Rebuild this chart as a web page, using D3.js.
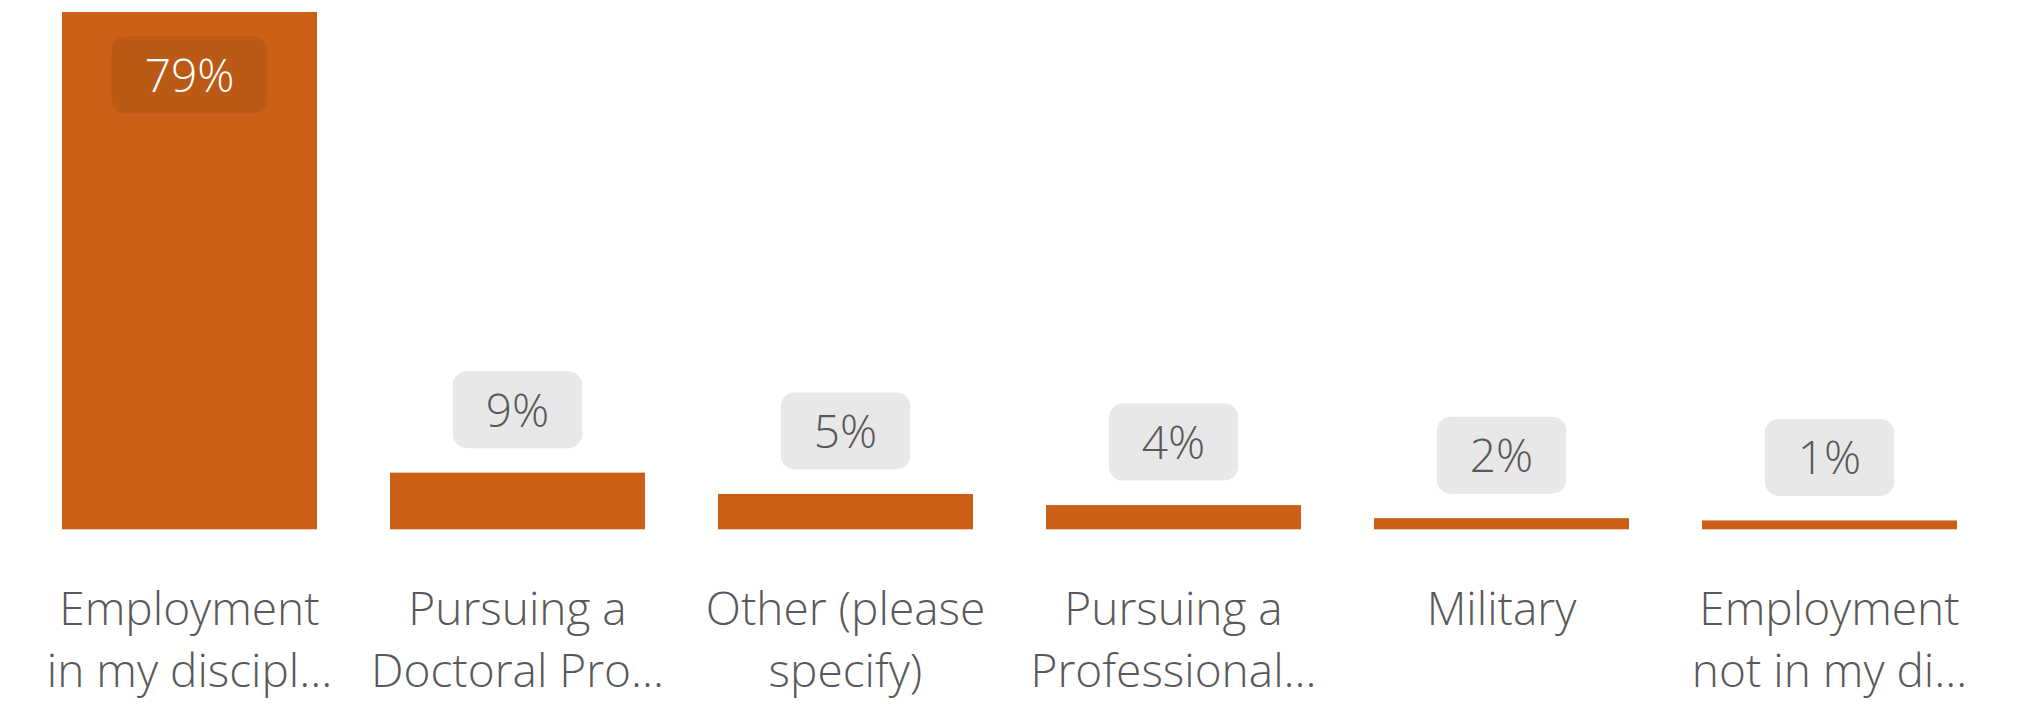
<!DOCTYPE html>
<html>
<head>
<meta charset="utf-8">
<script src="https://cdn.jsdelivr.net/npm/d3@7"></script>
<style>
  html, body { margin: 0; padding: 0; background: #ffffff; }
  svg { display: block; }
</style>
</head>
<body>
<svg id="chart" width="2028" height="704"></svg>
<script>
const categories = [
  "Employment in my discipline",
  "Pursuing a Doctoral Program",
  "Other (please specify)",
  "Pursuing a Professional Program",
  "Military",
  "Employment not in my discipline"
];
const categoryLines = [
  ["Employment", "in my discipl\u2026"],
  ["Pursuing a", "Doctoral Pro\u2026"],
  ["Other (please", "specify)"],
  ["Pursuing a", "Professional\u2026"],
  ["Military"],
  ["Employment", "not in my di\u2026"]
];
const values = [79, 8.65, 5.4, 3.7, 1.7, 1.35];
const valueLabels = ["79%", "9%", "5%", "4%", "2%", "1%"];

const W = 2028, H = 704;
const baseY = 529.3, topY = 12;
const svg = d3.select("#chart");

const x = d3.scaleBand()
  .domain(categories)
  .range([25.5, 1993.5])
  .paddingInner(0.2226)
  .paddingOuter(0.1113);

const y = d3.scaleLinear()
  .domain([0, d3.max(values)])
  .range([baseY, topY]);

const barColor = "#CA5F15";
const textColor = "#595959";
const font = "'Open Sans', 'Noto Sans', sans-serif";

const data = categories.map((c, i) => ({ c, v: values[i], lab: valueLabels[i], lines: categoryLines[i], i }));

svg.append("g").selectAll("rect")
  .data(data)
  .join("rect")
  .attr("x", d => x(d.c))
  .attr("width", x.bandwidth())
  .attr("y", d => y(d.v))
  .attr("height", d => baseY - y(d.v))
  .attr("fill", barColor);

// value labels
const boxH = 77, gap = 24.5;
const lab = svg.append("g").selectAll("g")
  .data(data)
  .join("g")
  .attr("transform", d => {
    const cx = x(d.c) + x.bandwidth() / 2;
    const inside = d.i === 0;
    const cy = inside ? y(d.v) + gap + boxH / 2 : y(d.v) - gap - boxH / 2;
    return `translate(${cx},${cy})`;
  });

lab.append("text")
  .attr("class", "vl")
  .attr("text-anchor", "middle")
  .attr("dy", "0.37em")
  .attr("font-family", font)
  .attr("font-weight", 300)
  .attr("font-size", 46)
  .attr("fill", d => d.i === 0 ? "#ffffff" : textColor)
  .text(d => d.lab);

lab.each(function(d) {
  const g = d3.select(this);
  const t = g.select("text").node();
  const bw = t.getComputedTextLength() + 66;
  g.insert("rect", "text")
    .attr("x", -bw / 2)
    .attr("y", -boxH / 2)
    .attr("width", bw)
    .attr("height", boxH)
    .attr("rx", 14)
    .attr("ry", 14)
    .attr("fill", d.i === 0 ? "#BB5A17" : "#E8E8E8");
});

// category labels
const cat = svg.append("g").selectAll("text")
  .data(data)
  .join("text")
  .attr("text-anchor", "middle")
  .attr("font-family", font)
  .attr("font-weight", 300)
  .attr("font-size", 46)
  .attr("fill", textColor)
  .attr("x", d => x(d.c) + x.bandwidth() / 2)
  .attr("y", 625);

cat.selectAll("tspan")
  .data(d => d.lines.map(l => ({ l, cx: x(d.c) + x.bandwidth() / 2 })))
  .join("tspan")
  .attr("x", d => d.cx)
  .attr("dy", (d, i) => i === 0 ? 0 : 62)
  .text(d => d.l);
</script>
</body>
</html>
